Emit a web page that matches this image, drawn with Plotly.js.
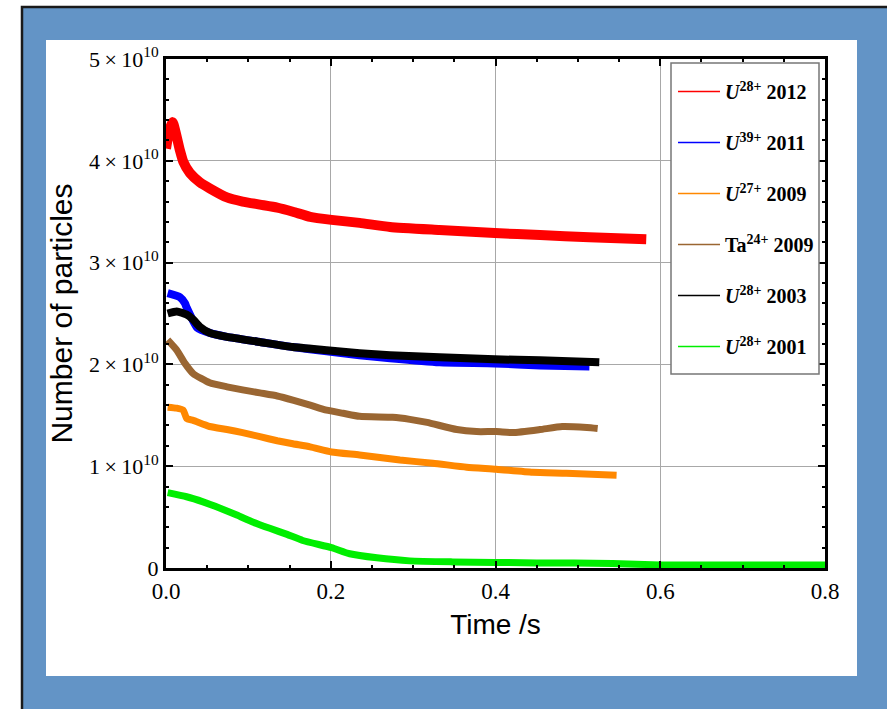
<!DOCTYPE html>
<html>
<head>
<meta charset="utf-8">
<script src="https://cdn.plot.ly/plotly-3.0.1.min.js"></script>
<style>html,body{margin:0;padding:0;background:#fff;}#chart{width:887px;height:709px;}</style>
</head>
<body>
<div id="chart"></div>
<script>
// ---- data (time in s, number of particles) ----
var legendNames = ['<i>U</i><sup>28+</sup> 2012', '<i>U</i><sup>39+</sup> 2011', '<i>U</i><sup>27+</sup> 2009',
                   'Ta<sup>24+</sup> 2009', '<i>U</i><sup>28+</sup> 2003', '<i>U</i><sup>28+</sup> 2001'];
var colors = ['#ff0000', '#0000ff', '#ff8800', '#9a6632', '#000000', '#00ee00'];

var t2012 = [0,0.004,0.008,0.017,0.021,0.029,0.041,0.053,0.074,0.093,0.114,0.135,0.154,0.175,0.201,0.235,0.272,0.332,0.399,0.454,0.514,0.583];
var n2012 = [4.12e10,4.30e10,4.38e10,4.10e10,3.99e10,3.88e10,3.79e10,3.73e10,3.64e10,3.60e10,3.57e10,3.54e10,3.50e10,3.45e10,3.42e10,3.39e10,3.35e10,3.32e10,3.29e10,3.27e10,3.25e10,3.23e10];

var t2011 = [0.002,0.017,0.023,0.025,0.038,0.053,0.074,0.114,0.154,0.195,0.235,0.272,0.332,0.399,0.454,0.514];
var n2011 = [2.70e10,2.66e10,2.60e10,2.56e10,2.36e10,2.31e10,2.27e10,2.22e10,2.17e10,2.13e10,2.09e10,2.06e10,2.02e10,2.01e10,1.99e10,1.98e10];

var t2009U = [0.002,0.013,0.021,0.025,0.033,0.053,0.074,0.093,0.114,0.135,0.154,0.175,0.201,0.235,0.284,0.324,0.365,0.401,0.445,0.486,0.547];
var n2009U = [1.58e10,1.57e10,1.55e10,1.47e10,1.45e10,1.39e10,1.36e10,1.33e10,1.29e10,1.25e10,1.22e10,1.19e10,1.14e10,1.11e10,1.06e10,1.03e10,0.99e10,0.97e10,0.94e10,0.93e10,0.91e10];

var t2009Ta = [0.002,0.013,0.023,0.033,0.053,0.074,0.093,0.114,0.135,0.154,0.175,0.195,0.215,0.235,0.275,0.296,0.317,0.353,0.377,0.401,0.421,0.454,0.481,0.511,0.524];
var n2009Ta = [2.24e10,2.14e10,2.01e10,1.91e10,1.82e10,1.78e10,1.75e10,1.72e10,1.69e10,1.65e10,1.60e10,1.55e10,1.52e10,1.49e10,1.48e10,1.46e10,1.43e10,1.36e10,1.34e10,1.34e10,1.33e10,1.36e10,1.39e10,1.38e10,1.37e10];

var t2003 = [0.002,0.013,0.025,0.033,0.041,0.053,0.074,0.114,0.154,0.195,0.235,0.272,0.332,0.399,0.454,0.526];
var n2003 = [2.50e10,2.52e10,2.49e10,2.44e10,2.37e10,2.31e10,2.27e10,2.22e10,2.17e10,2.14e10,2.11e10,2.09e10,2.07e10,2.05e10,2.04e10,2.02e10];

var t2001 = [0.002,0.025,0.045,0.065,0.086,0.106,0.126,0.147,0.166,0.201,0.223,0.256,0.296,0.348,0.45,0.542,0.6,0.7,0.8];
var n2001 = [0.74e10,0.70e10,0.65e10,0.59e10,0.52e10,0.45e10,0.39e10,0.33e10,0.27e10,0.20e10,0.14e10,0.10e10,0.07e10,0.06e10,0.05e10,0.045e10,0.03e10,0.03e10,0.03e10];

var xTickVals = [0, 0.2, 0.4, 0.6, 0.8];
var yTickVals = [0, 1e10, 2e10, 3e10, 4e10, 5e10];
var yTickText = ['0', '1\u2009\u00d7\u200910<sup>10</sup>', '2\u2009\u00d7\u200910<sup>10</sup>',
                 '3\u2009\u00d7\u200910<sup>10</sup>', '4\u2009\u00d7\u200910<sup>10</sup>', '5\u2009\u00d7\u200910<sup>10</sup>'];

// ---- traces ----
var series = [[t2012,n2012],[t2011,n2011],[t2009U,n2009U],[t2009Ta,n2009Ta],[t2003,n2003],[t2001,n2001]];
var widths = [10, 8, 7, 7, 8, 7];
var traces = [];
series.forEach(function (s, i) {
  traces.push({x: s[0], y: s[1], type: 'scatter', mode: 'lines', showlegend: false,
    line: {color: colors[i], width: widths[i], shape: 'spline', smoothing: 0.5}, hoverinfo: 'skip'});
});
legendNames.forEach(function (nm, i) {
  traces.push({x: [null], y: [null], type: 'scatter', mode: 'lines', name: nm,
    legendgroup: 'g' + i, line: {color: colors[i], width: 1.5}});
});

// paper-coordinate helpers (plot area: x 166..825, y 59..568)
var L = 166, T = 59, W = 659, H = 509;
function px(v) { return (v - L) / W; }
function py(v) { return 1 - (v - T) / H; }

var layout = {
  width: 887, height: 709,
  margin: {l: L, r: 887 - L - W, t: T, b: 709 - T - H, pad: 0},
  paper_bgcolor: '#ffffff', plot_bgcolor: '#ffffff',
  showlegend: true,
  font: {family: 'Liberation Serif, Times New Roman, serif', color: '#000'},
  xaxis: {
    range: [0, 0.8], tickvals: xTickVals, tickformat: '.1f',
    showline: true, linecolor: '#000', linewidth: 3, mirror: 'ticks',
    ticks: 'inside', ticklen: 7, tickwidth: 2, tickcolor: '#000',
    showgrid: true, gridcolor: '#a8a8a8', gridwidth: 1.3, zeroline: false,
    minor: {dtick: 0.05, ticks: 'inside', ticklen: 3, tickwidth: 2, tickcolor: '#000', showgrid: false},
    tickfont: {family: 'Liberation Serif, serif', size: 23, color: '#000'},
    title: {text: 'Time /s', font: {family: 'Liberation Sans, Arial, sans-serif', size: 28, color: '#000'}, standoff: 12}
  },
  yaxis: {
    range: [0, 5e10], tickmode: 'array', tickvals: yTickVals, ticktext: yTickText,
    showline: true, linecolor: '#000', linewidth: 3, mirror: 'ticks',
    ticks: 'inside', ticklen: 7, tickwidth: 2, tickcolor: '#000',
    showgrid: true, gridcolor: '#a8a8a8', gridwidth: 1.3, zeroline: false,
    minor: {dtick: 2e9, ticks: 'inside', ticklen: 3, tickwidth: 2, tickcolor: '#000', showgrid: false},
    tickfont: {family: 'Liberation Serif, serif', size: 22, color: '#000'},
    title: {text: 'Number of particles', font: {family: 'Liberation Sans, Arial, sans-serif', size: 30, color: '#000'}, standoff: 8}
  },
  legend: {
    x: px(673), y: py(72), xanchor: 'left', yanchor: 'top',
    bgcolor: 'rgba(0,0,0,0)', borderwidth: 0,
    font: {family: 'Liberation Serif, serif', size: 20, color: '#000', weight: 'bold'},
    tracegroupgap: 22, itemwidth: 42
  },
  shapes: [
    {type: 'rect', xref: 'paper', yref: 'paper', layer: 'below',
     x0: px(22), x1: px(900), y0: py(7), y1: py(720),
     fillcolor: '#6394c6', line: {color: '#1a1a1a', width: 2.5}},
    {type: 'rect', xref: 'paper', yref: 'paper', layer: 'below',
     x0: px(46), x1: px(857), y0: py(40), y1: py(676),
     fillcolor: '#ffffff', line: {width: 0}},
    {type: 'rect', xref: 'paper', yref: 'paper', layer: 'above',
     x0: px(671), x1: px(819), y0: py(63), y1: py(374),
     fillcolor: '#ffffff', line: {color: '#777777', width: 1.5}}
  ]
};

Plotly.newPlot('chart', traces, layout, {displayModeBar: false, staticPlot: true});
</script>
</body>
</html>
